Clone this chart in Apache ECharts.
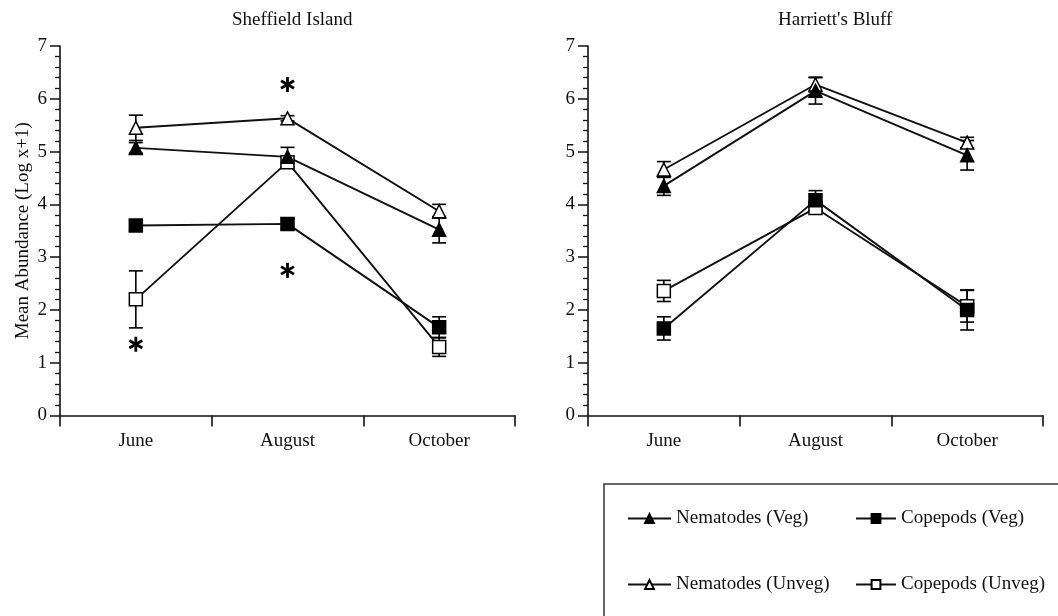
<!DOCTYPE html>
<html>
<head>
<meta charset="utf-8">
<script src="https://cdn.jsdelivr.net/npm/echarts@6/dist/echarts.min.js"></script>
<style>
  html, body { margin: 0; padding: 0; background: #fff; }
  #chart { width: 1058px; height: 616px; }
</style>
</head>
<body>
<div id="chart"></div>
<script>
var months = ["June", "August", "October"];

// Sheffield Island
var shNemVeg = [5.07, 4.9, 3.52];
var shNemVegErr = [0.1, 0.18, 0.25];
var shNemUnveg = [5.45, 5.63, 3.87];
var shNemUnvegErr = [0.24, 0.05, 0.13];
var shCopVeg = [3.6, 3.63, 1.67];
var shCopVegErr = [0.1, 0.1, 0.2];
var shCopUnveg = [2.2, 4.8, 1.3];
var shCopUnvegErr = [0.54, 0.1, 0.18];
var shStars = [[0, 1.35], [1, 6.27], [1, 2.75]];

// Harriett's Bluff
var hbNemVeg = [4.35, 6.15, 4.93];
var hbNemVegErr = [0.18, 0.25, 0.28];
var hbNemUnveg = [4.66, 6.27, 5.17];
var hbNemUnvegErr = [0.15, 0.14, 0.1];
var hbCopVeg = [1.65, 4.08, 2.0];
var hbCopVegErr = [0.22, 0.18, 0.38];
var hbCopUnveg = [2.36, 3.93, 2.07];
var hbCopUnvegErr = [0.2, 0.06, 0.3];

var FONT = "Liberation Serif";
var INK = "#111";

var chart = echarts.init(document.getElementById("chart"));

function lineSeries(name, data, symbol, filled, idx) {
  return {
    type: "line",
    name: name,
    xAxisIndex: idx,
    yAxisIndex: idx,
    data: data,
    symbol: symbol,
    symbolSize: 13,
    lineStyle: { color: INK, width: 1.9 },
    itemStyle: { color: filled ? "#000" : "#fff", borderColor: "#000", borderWidth: 1.5 },
    z: 4
  };
}

function errorSeries(means, errs, idx) {
  return {
    type: "custom",
    xAxisIndex: idx,
    yAxisIndex: idx,
    z: 3,
    silent: true,
    data: means.map(function (m, i) {
      return [i, m - errs[i], m + errs[i]];
    }),
    renderItem: function (params, api) {
      var lo = api.coord([api.value(0), api.value(1)]);
      var hi = api.coord([api.value(0), api.value(2)]);
      var w = 7;
      var st = { stroke: "#000", lineWidth: 1.6 };
      return {
        type: "group",
        children: [
          { type: "line", shape: { x1: lo[0], y1: lo[1], x2: hi[0], y2: hi[1] }, style: st },
          { type: "line", shape: { x1: lo[0] - w, y1: lo[1], x2: lo[0] + w, y2: lo[1] }, style: st },
          { type: "line", shape: { x1: hi[0] - w, y1: hi[1], x2: hi[0] + w, y2: hi[1] }, style: st }
        ]
      };
    }
  };
}

// asterisk drawn as three crossing strokes
function starSeries(points, idx) {
  return {
    type: "custom",
    xAxisIndex: idx,
    yAxisIndex: idx,
    z: 5,
    silent: true,
    data: points,
    renderItem: function (params, api) {
      var p = api.coord([api.value(0), api.value(1)]);
      var r = 7.5;
      var st = { stroke: "#000", lineWidth: 2.8 };
      var arms = [90, 30, 150].map(function (deg) {
        var a = deg * Math.PI / 180;
        var dx = r * Math.cos(a), dy = r * Math.sin(a);
        return { type: "line", shape: { x1: p[0] - dx, y1: p[1] - dy, x2: p[0] + dx, y2: p[1] + dy }, style: st };
      });
      return { type: "group", children: arms };
    }
  };
}

function xAxis(idx) {
  return {
    type: "category",
    gridIndex: idx,
    data: months,
    boundaryGap: true,
    axisLine: { lineStyle: { color: INK, width: 1.6 } },
    axisTick: { show: true, length: 11, alignWithLabel: false, lineStyle: { color: INK, width: 1.6 } },
    axisLabel: { fontFamily: FONT, fontSize: 19, color: "#111", margin: 16 },
    splitLine: { show: false }
  };
}

function yAxis(idx, name) {
  return {
    type: "value",
    gridIndex: idx,
    min: 0,
    max: 7,
    interval: 1,
    name: name,
    nameLocation: "middle",
    nameGap: 27,
    nameTextStyle: { fontFamily: FONT, fontSize: 19, color: "#111" },
    axisLine: { show: true, lineStyle: { color: INK, width: 1.6 } },
    axisTick: { show: true, length: 10, lineStyle: { color: INK, width: 1.5 } },
    minorTick: { show: true, splitNumber: 5, length: 5, lineStyle: { color: INK, width: 1.3 } },
    axisLabel: { fontFamily: FONT, fontSize: 19, color: "#111", margin: 13 },
    splitLine: { show: false }
  };
}

var legendText = { fontFamily: FONT, fontSize: 19, color: "#111" };

chart.setOption({
  backgroundColor: "#fff",
  animation: false,
  title: [
    { text: "Sheffield Island", left: 227, top: 6, textStyle: { fontFamily: FONT, fontSize: 19, fontWeight: "normal", color: "#111" } },
    { text: "Harriett's Bluff", left: 773, top: 6, textStyle: { fontFamily: FONT, fontSize: 19, fontWeight: "normal", color: "#111" } }
  ],
  grid: [
    { left: 60, top: 46, width: 455, height: 369.5 },
    { left: 588, top: 46, width: 455, height: 369.5 }
  ],
  xAxis: [xAxis(0), xAxis(1)],
  yAxis: [yAxis(0, "Mean Abundance (Log x+1)"), yAxis(1, "")],
  legend: [
    {
      orient: "vertical", left: 622, top: 504, itemWidth: 43, itemHeight: 11, itemGap: 47,
      selectedMode: false, textStyle: legendText,
      data: ["Nematodes (Veg)", "Nematodes (Unveg)"]
    },
    {
      orient: "vertical", left: 850, top: 504, itemWidth: 40, itemHeight: 11, itemGap: 47,
      selectedMode: false, textStyle: legendText,
      data: ["Copepods (Veg)", "Copepods (Unveg)"]
    }
  ],
  graphic: [
    {
      type: "rect",
      shape: { x: 604, y: 484, width: 480, height: 160 },
      style: { fill: "none", stroke: "#333", lineWidth: 1.5 },
      silent: true
    }
  ],
  series: [
    errorSeries(shNemVeg, shNemVegErr, 0),
    errorSeries(shNemUnveg, shNemUnvegErr, 0),
    errorSeries(shCopVeg, shCopVegErr, 0),
    errorSeries(shCopUnveg, shCopUnvegErr, 0),
    lineSeries("Copepods (Unveg)", shCopUnveg, "rect", false, 0),
    lineSeries("Nematodes (Unveg)", shNemUnveg, "triangle", false, 0),
    lineSeries("Copepods (Veg)", shCopVeg, "rect", true, 0),
    lineSeries("Nematodes (Veg)", shNemVeg, "triangle", true, 0),
    starSeries(shStars, 0),

    errorSeries(hbNemVeg, hbNemVegErr, 1),
    errorSeries(hbNemUnveg, hbNemUnvegErr, 1),
    errorSeries(hbCopVeg, hbCopVegErr, 1),
    errorSeries(hbCopUnveg, hbCopUnvegErr, 1),
    lineSeries("Copepods (Unveg)", hbCopUnveg, "rect", false, 1),
    lineSeries("Nematodes (Unveg)", hbNemUnveg, "triangle", false, 1),
    lineSeries("Copepods (Veg)", hbCopVeg, "rect", true, 1),
    lineSeries("Nematodes (Veg)", hbNemVeg, "triangle", true, 1)
  ]
});
</script>
</body>
</html>
